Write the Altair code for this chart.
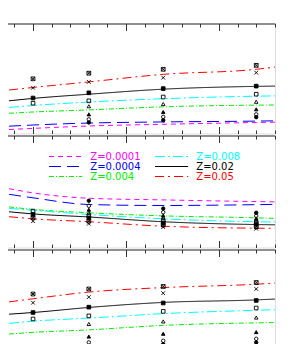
import altair as alt
import pandas as pd

# ---------------- data ----------------
X_LINE = [0.742, 1.0, 1.6, 2.4, 3.4, 3.602]
X_MARK = [1.0, 1.6, 2.4, 3.4]

SERIES = ["Z=0.0001", "Z=0.0004", "Z=0.004", "Z=0.008", "Z=0.02", "Z=0.05"]
SERIES_COLORS = ["#ff00ff", "#0000ff", "#00ee00", "#00ffff", "#000000", "#ff0000"]
SERIES_DASH = [[5, 4], [12, 6], [5, 2, 1, 2], [10, 3, 2, 3], [1, 0], [9, 4, 2, 4]]

top_z0001 = [0.10, 0.14, 0.225, 0.286, 0.35, 0.36]
top_z0004 = [0.218, 0.26, 0.33, 0.37, 0.40, 0.41]
top_z004 = [0.68, 0.725, 0.80, 0.91, 0.97, 0.975]
top_z008 = [0.886, 0.957, 1.08, 1.20, 1.29, 1.30]
top_z02 = [1.125, 1.21, 1.36, 1.54, 1.64, 1.65]
top_z05 = [1.51, 1.60, 1.80, 2.07, 2.25, 2.33]

mid_z0001 = [1.80, 1.65, 1.46, 1.40, 1.34, 1.33]
mid_z0004 = [1.60, 1.475, 1.235, 1.20, 1.23, 1.24]
mid_z004 = [1.15, 1.06, 0.94, 0.83, 0.76, 0.74]
mid_z008 = [1.10, 1.03, 0.88, 0.725, 0.62, 0.61]
mid_z02 = [0.975, 0.90, 0.79, 0.62, 0.52, 0.51]
mid_z05 = [0.80, 0.725, 0.62, 0.46, 0.39, 0.386]

bot_z0001 = [0.10, 0.14, 0.21, 0.26, 0.30, 0.31]
bot_z0004 = [0.21, 0.246, 0.32, 0.38, 0.41, 0.425]
bot_z004 = [0.88, 0.94, 1.03, 1.19, 1.28, 1.29]
bot_z008 = [1.26, 1.34, 1.45, 1.61, 1.73, 1.75]
bot_z02 = [1.59, 1.65, 1.83, 2.01, 2.10, 2.13]
bot_z05 = [2.03, 2.14, 2.38, 2.54, 2.66, 2.70]

MARKERS = ["hash", "cross", "sq_f", "sq_o", "tri_o", "tri_f", "circ_o", "circ_f"]
MARK_SHAPES = ["M-1,-1H1V1H-1ZM-1,-1L1,1M1,-1L-1,1", "M-1,-1L1,1M1,-1L-1,1",
               "square", "square", "triangle-up", "triangle-up", "circle", "circle"]
MARK_FILLS = ["transparent", "transparent", "#000000", "transparent",
              "transparent", "#000000", "transparent", "#000000"]
MARK_SIZES = [14, 12, 7, 12, 13, 8, 12, 13]

top_hash = [1.91, 2.11, 2.25, 2.39]
top_cross = [1.59, 1.80, 1.95, 2.13]
top_sq_f = [1.225, 1.41, 1.56, 1.65]
top_sq_o = [1.04, 1.125, 1.26, 1.36]
top_tri_o = [None, 0.93, 1.01, 1.09]
top_tri_f = [None, 0.64, 0.725, 0.82]
top_circ_o = [None, 0.46, 0.55, 0.64]
top_circ_f = [None, 0.35, 0.43, 0.54]

mid_hash = [0.76, 0.64, 0.50, 0.44]
mid_cross = [0.64, 0.55, 0.43, 0.37]
mid_sq_f = [0.88, 0.76, 0.58, 0.53]
mid_sq_o = [1.00, 0.84, 0.66, 0.60]
mid_tri_o = [None, 0.94, 0.76, 0.67]
mid_tri_f = [None, 1.05, 0.84, 0.74]
mid_circ_o = [None, 1.19, 0.96, 0.83]
mid_circ_f = [None, 1.37, 1.09, 0.94]

bot_hash = [2.31, 2.49, 2.58, 2.72]
bot_cross = [2.00, 2.20, 2.34, 2.49]
bot_sq_f = [1.65, 1.84, 1.99, 2.08]
bot_sq_o = [1.42, 1.53, 1.69, 1.81]
bot_tri_o = [None, 1.24, 1.33, 1.47]
bot_tri_f = [None, 0.79, 0.89, 0.95]
bot_circ_o = [None, 0.58, 0.64, 0.71]
bot_circ_f = [None, 0.46, 0.52, 0.58]

# the left frame of the original lies outside the picture
X_DOMAIN = [0.634, 3.602]
X_TICKS = [round(0.8 + 0.2 * i, 1) for i in range(15)]
Y_DOMAINS = [[-0.043, 3.886], [-0.3, 3.7], [-0.1, 3.9]]
HEIGHTS = [110, 112, 112]
PANEL_W = 276

TICK_EXPR = "abs(datum.value - round(datum.value)) < 0.01 ? -7 : -3.5"
label_expr = "'#000000'"
for s, c in zip(reversed(SERIES), reversed(SERIES_COLORS)):
    label_expr = f"datum.label == '{s}' ? '{c}' : ({label_expr})"


def line_df(vals):
    rows = []
    for s, ys in zip(SERIES, vals):
        for x, y in zip(X_LINE, ys):
            rows.append({"x": x, "y": y, "z": s})
    return pd.DataFrame(rows)


def mark_df(vals):
    rows = []
    for m, ys in zip(MARKERS, vals):
        for x, y in zip(X_MARK, ys):
            if y is not None:
                rows.append({"x": x, "y": y, "m": m})
    return pd.DataFrame(rows)


def panel(lines, marks, ydom, h, with_legend):
    yvals = [round(v * 0.2, 1) for v in range(-5, 25) if ydom[0] <= v * 0.2 <= ydom[1]]
    yaxis = alt.Axis(orient="right", values=yvals, labels=False, title=None, grid=False,
                     domain=True, domainColor="#333", tickColor="#333",
                     tickSize={"expr": TICK_EXPR})
    yscale = alt.Scale(domain=ydom, nice=False, zero=False)

    def xaxis(orient, show_domain):
        return alt.Axis(orient=orient, values=X_TICKS, labels=False, title=None, grid=False,
                        domain=show_domain, domainColor="#333", tickColor="#333",
                        tickSize={"expr": TICK_EXPR})

    xscale = alt.Scale(domain=X_DOMAIN, nice=False, zero=False)
    if with_legend:
        leg = alt.Legend(orient="none", legendX=61.6, legendY=16, columns=2, columnPadding=12,
                         rowPadding=0, symbolType="M-5,0H5", symbolSize=44,
                         symbolStrokeWidth=1, symbolFillColor="transparent",
                         labelFont="DejaVu Sans", labelFontSize=10,
                         labelOffset=19.7, labelColor={"expr": label_expr}, title=None,
                         padding=0)
    else:
        leg = None
    ln = alt.Chart(line_df(lines)).mark_line(strokeWidth=1, interpolate="monotone", clip=True).encode(
        x=alt.X("x:Q", scale=xscale, axis=xaxis("top", True)),
        y=alt.Y("y:Q", scale=yscale, axis=yaxis),
        color=alt.Color("z:N", scale=alt.Scale(domain=SERIES, range=SERIES_COLORS), legend=leg),
        strokeDash=alt.StrokeDash("z:N", scale=alt.Scale(domain=SERIES, range=SERIES_DASH), legend=leg),
        detail="z:N",
    )
    pt = alt.Chart(mark_df(marks)).mark_point(strokeWidth=0.9, opacity=1, clip=True).encode(
        x=alt.X("x:Q", scale=xscale, axis=xaxis("bottom", False)),
        y=alt.Y("y:Q", scale=yscale, axis=None),
        shape=alt.Shape("m:N", scale=alt.Scale(domain=MARKERS, range=MARK_SHAPES), legend=None),
        fill=alt.Fill("m:N", scale=alt.Scale(domain=MARKERS, range=MARK_FILLS), legend=None),
        size=alt.Size("m:N", scale=alt.Scale(domain=MARKERS, range=MARK_SIZES), legend=None),
        stroke=alt.value("#000000"),
    )
    return alt.layer(ln, pt).resolve_axis(x="independent").properties(width=PANEL_W, height=h)


top = panel([top_z0001, top_z0004, top_z004, top_z008, top_z02, top_z05],
            [top_hash, top_cross, top_sq_f, top_sq_o, top_tri_o, top_tri_f, top_circ_o, top_circ_f],
            Y_DOMAINS[0], HEIGHTS[0], False)
mid = panel([mid_z0001, mid_z0004, mid_z004, mid_z008, mid_z02, mid_z05],
            [mid_hash, mid_cross, mid_sq_f, mid_sq_o, mid_tri_o, mid_tri_f, mid_circ_o, mid_circ_f],
            Y_DOMAINS[1], HEIGHTS[1], True)
bot = panel([bot_z0001, bot_z0004, bot_z004, bot_z008, bot_z02, bot_z05],
            [bot_hash, bot_cross, bot_sq_f, bot_sq_o, bot_tri_o, bot_tri_f, bot_circ_o, bot_circ_f],
            Y_DOMAINS[2], HEIGHTS[2], False)

chart = alt.vconcat(top, mid, bot, spacing=0).resolve_legend(
    color="independent", strokeDash="independent"
).properties(
    padding={"left": -10, "top": 14.5, "right": 10, "bottom": 0}
).configure_view(stroke="transparent", strokeWidth=0).configure(background="#ffffff")

chart.save("out.html", embed_options={"renderer": "svg", "actions": False})
